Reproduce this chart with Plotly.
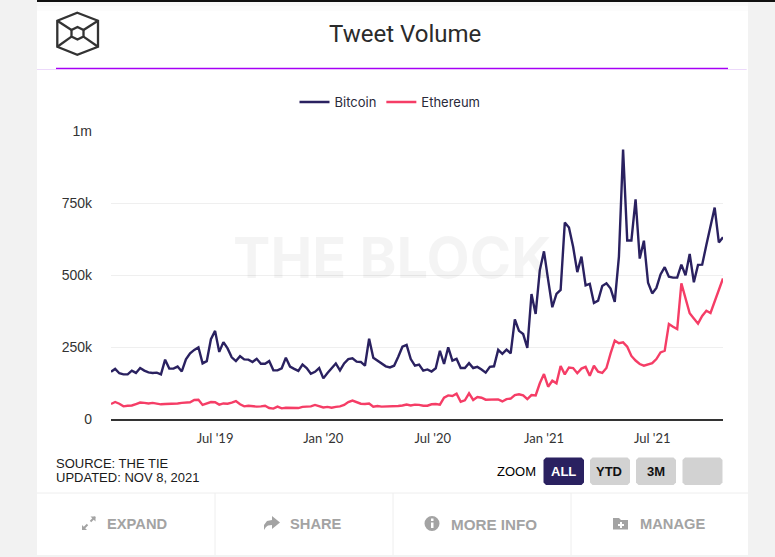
import datetime as dt
import plotly.graph_objects as go

bitcoin_k = [164,174,159,155,155,168,160,177,168,162,160,161,155,206,175,175,182,165,207,228,240,249,193,201,277,306,233,267,245,214,201,218,207,206,198,209,192,192,201,169,169,176,213,182,174,167,189,177,157,164,177,141,160,177,193,169,193,208,211,199,198,185,279,213,204,193,183,179,185,216,251,257,208,185,189,
 168,172,165,176,237,191,249,203,209,177,177,194,177,181,172,161,181,183,240,226,241,228,346,306,295,247,434,365,517,582,483,388,434,448,682,665,598,510,564,464,469,403,411,462,471,453,407,564,936,620,620,763,557,619,473,436,455,502,527,494,491,491,536,499,573,475,535,536,604,668,734,613,631]
ethereum_k = [52,59,53,44,46,47,52,57,56,54,56,53,51,52,52,53,54,56,57,58,66,67,49,53,59,58,50,54,53,57,62,51,44,46,44,43,44,46,38,36,43,37,39,38,38,38,42,44,44,49,45,40,42,39,42,44,49,59,64,59,53,52,54,43,45,43,43,44,44,45,47,50,47,50,49,
 46,46,51,52,50,74,82,80,88,60,65,89,66,76,74,67,67,67,68,61,69,71,83,86,82,69,83,82,124,156,112,133,124,184,155,179,177,159,175,181,150,185,164,160,177,228,272,263,266,251,219,203,191,185,189,194,208,231,237,330,320,312,471,419,367,349,331,358,376,368,407,442,488]
assert len(bitcoin_k) == len(ethereum_k)
start_date = dt.date(2019, 1, 20)
dates = [start_date + dt.timedelta(days=7 * i) for i in range(len(bitcoin_k))]
# the source draws its month labels a little to the right of the month start
x_tick_dates = ["2019-07-14", "2020-01-12", "2020-07-14", "2021-01-17", "2021-07-18"]
x_tick_labels = ["Jul '19", "Jan '20", "Jul '20", "Jan '21", "Jul '21"]
y_tick_vals = [0, 250000, 500000, 750000, 1000000]
y_tick_labels = ["0", "250k", "500k", "750k", "1m"]

L, R, T, B = 111, 723, 131, 419
W, H = 775, 557
PANEL_R = 748
ARIAL = "Liberation Sans"
def px(x): return (x - L) / (R - L)
def py(y): return (B - y) / (B - T)
def path(points, close=True):
    s = "M" + " L".join(f"{px(a):.5f},{py(b):.5f}" for a, b in points)
    return s + (" Z" if close else "")

shapes = []
def rect(x0, y0, x1, y1, fill):
    shapes.append(dict(type="rect", xref="paper", yref="paper", x0=px(x0), x1=px(x1), y0=py(y0), y1=py(y1),
                       fillcolor=fill, line_width=0, layer="below"))
def poly(points, fill=None, color=None, width=0, close=True):
    shapes.append(dict(type="path", xref="paper", yref="paper", path=path(points, close),
                       fillcolor=fill or "rgba(0,0,0,0)", line=dict(color=color or "rgba(0,0,0,0)", width=width), layer="below"))
def line(x0, y0, x1, y1, color, width=1):
    shapes.append(dict(type="line", xref="paper", yref="paper", x0=px(x0), x1=px(x1), y0=py(y0), y1=py(y1),
                       line=dict(color=color, width=width), layer="below"))

# panel
rect(37, 0, PANEL_R, 555, "#ffffff")
rect(37, 2, PANEL_R, 6, "#f8f8f8")
rect(37, 6, PANEL_R, 11, "#fcfcfc")
line(37, 1, 775, 1, "#111111", 2)
line(37, 69.5, 56, 69.5, "#ecd9fb", 1)
line(56, 68.5, 728, 68.5, "#a600f5", 1.6)
line(728, 69.5, 746.7, 69.5, "#ecd9fb", 1)
line(37, 493, PANEL_R, 493, "#eeeeee", 1)
for vx in (215, 393, 571):
    line(vx, 493, vx, 555, "#eeeeee", 1)
line(L, 420.5, R, 420.5, "#d0d0d0", 1)

# logo
logo = "#333333"
poly([(77.3,12.7),(98,20.7),(98,46.7),(77.3,54.7),(57.3,46.7),(57.3,20.7)], color=logo, width=2.3)
poly([(77.5,27),(83.5,30),(83.5,36.6),(77.5,39.5),(71.5,36.6),(71.5,30)], color=logo, width=2.3)
for a, b in [((57.3,20.7),(71.5,30)),((98,20.7),(83.5,30)),((57.3,46.7),(71.5,36.6)),((98,46.7),(83.5,36.6))]:
    line(a[0], a[1], b[0], b[1], logo, 2.3)

# zoom buttons
def rounded(x0, y0, x1, y1, fill, r=2.5):
    poly([(x0+r,y0),(x1-r,y0),(x1,y0+r),(x1,y1-r),(x1-r,y1),(x0+r,y1),(x0,y1-r),(x0,y0+r)], fill=fill)
rounded(543.5, 457.5, 584, 485, "#2a2160")
rounded(590, 457.5, 630, 485, "#d2d2d2")
rounded(636, 457.5, 676, 485, "#d2d2d2")
rounded(682.5, 457.5, 722.5, 485, "#d2d2d2")

# footer icons
ic = "#a3a3a3"
line(83, 529, 87.5, 524.5, ic, 2); line(90.5, 521.5, 95, 517, ic, 2)
poly([(82,530),(82,525),(87,530)], fill=ic); poly([(95.5,516.5),(95.5,521.5),(90.5,516.5)], fill=ic)
poly([(264,530),(264,525),(267,521),(272,520),(272,516),(280,522.5),(272,529),(272,525),(268,525.5),(266,527)], fill=ic)
shapes.append(dict(type="circle", xref="paper", yref="paper", x0=px(424.5), x1=px(439.5), y0=py(531), y1=py(516),
                   fillcolor=ic, line_width=0, layer="below"))
rect(431, 522.5, 433.5, 528, "#ffffff"); rect(431, 518.5, 433.5, 521, "#ffffff")
poly([(613,518),(619,518),(621,520),(628,520),(628,529.5),(613,529.5)], fill=ic)
rect(620, 522, 622, 528, "#ffffff"); rect(618, 524, 624, 526, "#ffffff")

ann = []
def text(x, y, s, size, color, anchor="center", family=ARIAL):
    ann.append(dict(text=s, x=px(x), y=py(y), xref="paper", yref="paper", showarrow=False, xanchor=anchor,
                    yanchor="middle", font=dict(size=size, color=color, family=family)))

text(392, 258, "<b>THE BLOCK</b>", 56, "rgba(0,0,0,0.045)", family="Inter")
text(405, 34, "Tweet Volume", 24, "#2b2b2b", family="Roboto")
text(54, 463, "SOURCE: THE TIE", 13, "#1a1a1a", anchor="left")
text(54, 477, "UPDATED: NOV 8, 2021", 13, "#1a1a1a", anchor="left")
text(516.5, 471, "ZOOM", 13, "#000000")
text(563.5, 471, "<b>ALL</b>", 13, "#ffffff")
text(609, 471, "<b>YTD</b>", 13, "#111111")
text(655.5, 471, "<b>3M</b>", 13, "#111111")
text(136.5, 524, "<b>EXPAND</b>", 14.7, ic)
text(315.5, 524, "<b>SHARE</b>", 14.7, ic)
text(493.5, 524, "<b>MORE INFO</b>", 15.2, ic)
text(672.5, 524, "<b>MANAGE</b>", 14.7, ic)

fig = go.Figure()
fig.add_trace(go.Scatter(x=dates, y=[v * 1000 for v in bitcoin_k], name="Bitcoin", mode="lines",
                         line=dict(color="#2a2160", width=2.4)))
fig.add_trace(go.Scatter(x=dates, y=[v * 1000 for v in ethereum_k], name="Ethereum", mode="lines",
                         line=dict(color="#f53d66", width=2.4)))
fig.update_layout(
    width=W, height=H, autosize=False,
    margin=dict(l=L, r=W - R, t=T, b=H - B, pad=0),
    paper_bgcolor="#f2f2f2", plot_bgcolor="rgba(0,0,0,0)",
    font=dict(family="Lato", size=13, color="#333333"),
    shapes=shapes, annotations=ann,
    showlegend=True,
    legend=dict(orientation="h", x=px(390), xanchor="center", y=py(102), yanchor="middle",
                bgcolor="rgba(0,0,0,0)", font=dict(size=13, family="Inter", color="#2a2a3a"), itemwidth=30, tracegroupgap=0),
    hovermode="x unified",
    xaxis=dict(type="date", range=[dates[0], dates[-1]], tickmode="array", tickvals=x_tick_dates, ticktext=x_tick_labels,
               showgrid=False, zeroline=False, showline=True, linecolor="#333333", linewidth=1.5, ticks="",
               tickfont=dict(size=13, color="#333333"), ticklabelstandoff=7),
    yaxis=dict(range=[0, 1000000], tickmode="array", tickvals=y_tick_vals, ticktext=y_tick_labels,
               showgrid=True, gridcolor="#efefef", gridwidth=1, zeroline=False, showline=False, ticks="",
               tickfont=dict(size=14, family=ARIAL, color="#333333"), ticklabelstandoff=18),
)
fig.write_html("out.html", post_script="document.body.style.margin='0';document.body.style.overflow='hidden';",
               config=dict(displayModeBar=False))
